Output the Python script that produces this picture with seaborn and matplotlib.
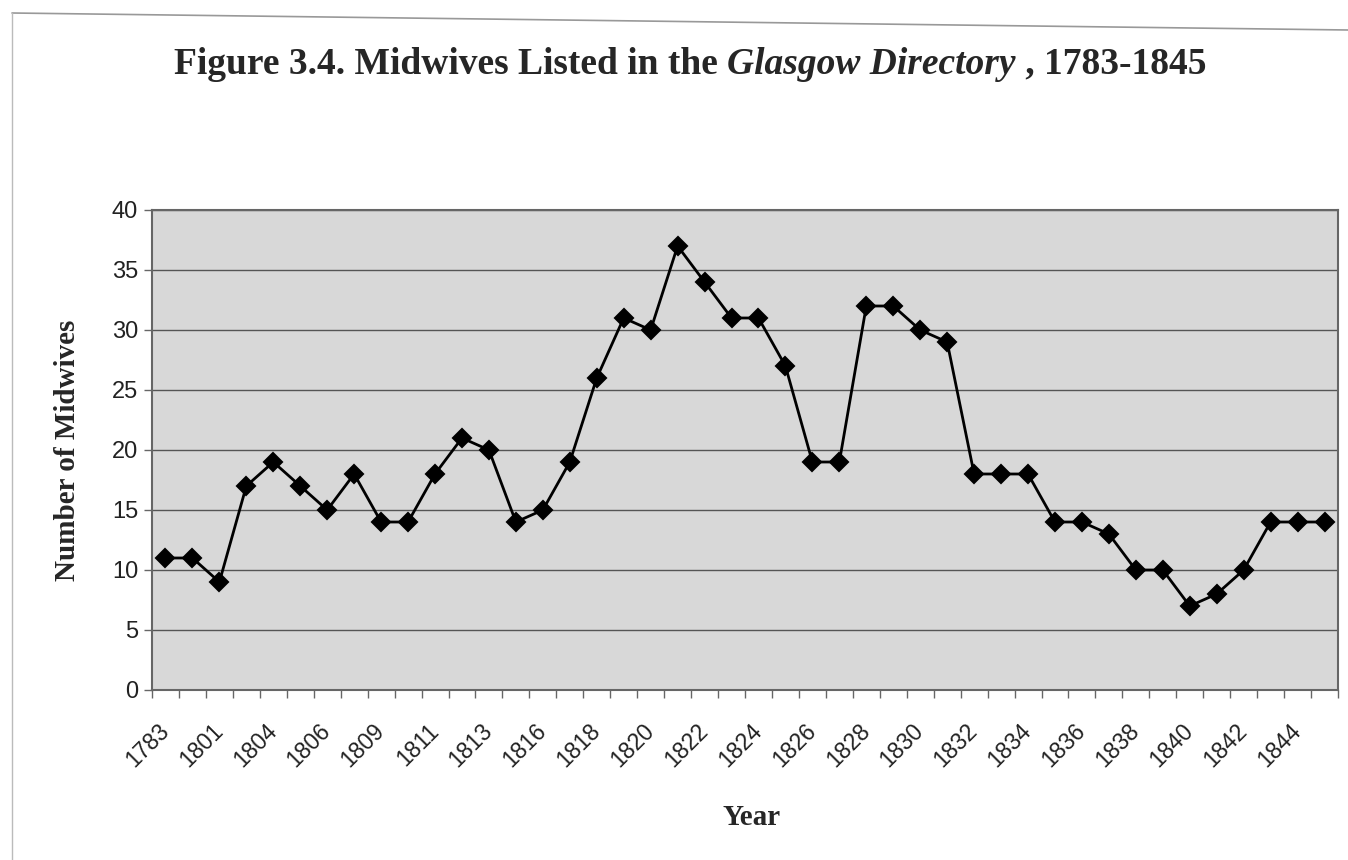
import numpy as np
import pandas as pd
import matplotlib
matplotlib.use("Agg")
import matplotlib.pyplot as plt
from matplotlib.lines import Line2D
import seaborn as sns

# ---- data ----
years = ["1783", "1799", "1801", "1803", "1804", "1805", "1806", "1808", "1809", "1810",
         "1811", "1812", "1813", "1815", "1816", "1817", "1818", "1819", "1820", "1821",
         "1822", "1823", "1824", "1825", "1826", "1827", "1828", "1829", "1830", "1831",
         "1832", "1833", "1834", "1835", "1836", "1837", "1838", "1839", "1840", "1841",
         "1842", "1843", "1844", "1845"]
midwives = [11, 11, 9, 17, 19, 17, 15, 18, 14, 14,
            18, 21, 20, 14, 15, 19, 26, 31, 30, 37,
            34, 31, 31, 27, 19, 19, 32, 32, 30, 29,
            18, 18, 18, 14, 14, 13, 10, 10, 7, 8,
            10, 14, 14, 14]
y_ticks = [0, 5, 10, 15, 20, 25, 30, 35, 40]

title_parts = ["Figure 3.4. Midwives Listed in the ", "Glasgow Directory", " , 1783-1845"]
y_label = "Number of Midwives"
x_label = "Year"

df = pd.DataFrame({"Year": years, "Midwives": midwives})

sns.set_theme(style="white")
plt.rcParams["font.family"] = ["Liberation Sans", "DejaVu Sans"]

W, H = 1348, 860
fig = plt.figure(figsize=(W / 100, H / 100), dpi=100)
ax = fig.add_axes([152 / W, 1 - 690 / H, (1338 - 152) / W, (690 - 210) / H])

sns.pointplot(data=df, x="Year", y="Midwives", order=years, ax=ax,
              color="black", markers="D", linestyles="-", errorbar=None,
              markersize=9, linewidth=2.0)

ax.set_facecolor("#d8d8d8")
ax.set_xlim(-0.5, len(years) - 0.5)
ax.set_ylim(0, 40)
ax.set_yticks(y_ticks)
ax.set_yticklabels([str(v) for v in y_ticks], fontsize=17, color="#222222")
ax.yaxis.grid(True, color="#555555", linewidth=1.0)
ax.xaxis.grid(False)
ax.set_axisbelow(True)

ax.set_xticks(range(0, len(years), 2))
ax.set_xticklabels(years[::2], rotation=45, ha="right", va="center",
                   rotation_mode="anchor", fontsize=16.5, color="#222222")
ax.set_xticks(np.arange(-0.5, len(years), 1), minor=True)
ax.tick_params(axis="x", which="major", length=0, pad=27)
ax.tick_params(axis="x", which="minor", length=6, width=1, color="#666666", direction="out", bottom=True)
ax.tick_params(axis="y", which="major", length=6, width=1, color="#666666", direction="out", left=True, pad=4)

for s in ax.spines.values():
    s.set_color("#666666")
    s.set_linewidth(1.5)

ax.set_xlabel(x_label, fontsize=21, fontweight="bold", family="Liberation Serif")
ax.set_ylabel(y_label, fontsize=21, fontweight="bold", family="Liberation Serif")
ax.xaxis.set_label_coords((752 - 152) / (1338 - 152), (690 - 804) / (690 - 210))
ax.yaxis.set_label_coords((81 - 152) / (1338 - 152), 0.5)

# title with italic part, laid out piece by piece
fig.canvas.draw()
renderer = fig.canvas.get_renderer()
styles = ["normal", "italic", "normal"]
texts = []
for part, st in zip(title_parts, styles):
    t = fig.text(0, 1 - 64 / H, part, fontsize=27, fontweight="bold", fontstyle=st,
                 family="Liberation Serif", ha="left", va="center")
    texts.append(t)
widths = [t.get_window_extent(renderer).width for t in texts]
total = sum(widths)
x0 = 690 - total / 2
for t, w in zip(texts, widths):
    t.set_x(x0 / W)
    x0 += w

# page border of the scanned chart area
fig.add_artist(Line2D([12 / W, 1.0], [1 - 13 / H, 1 - 30 / H], transform=fig.transFigure,
                      color="#999999", lw=1.2))
fig.add_artist(Line2D([12 / W, 12 / W], [1 - 13 / H, 0.0], transform=fig.transFigure,
                      color="#bbbbbb", lw=1.0))

fig.savefig("out.png", dpi=100, facecolor="white")
